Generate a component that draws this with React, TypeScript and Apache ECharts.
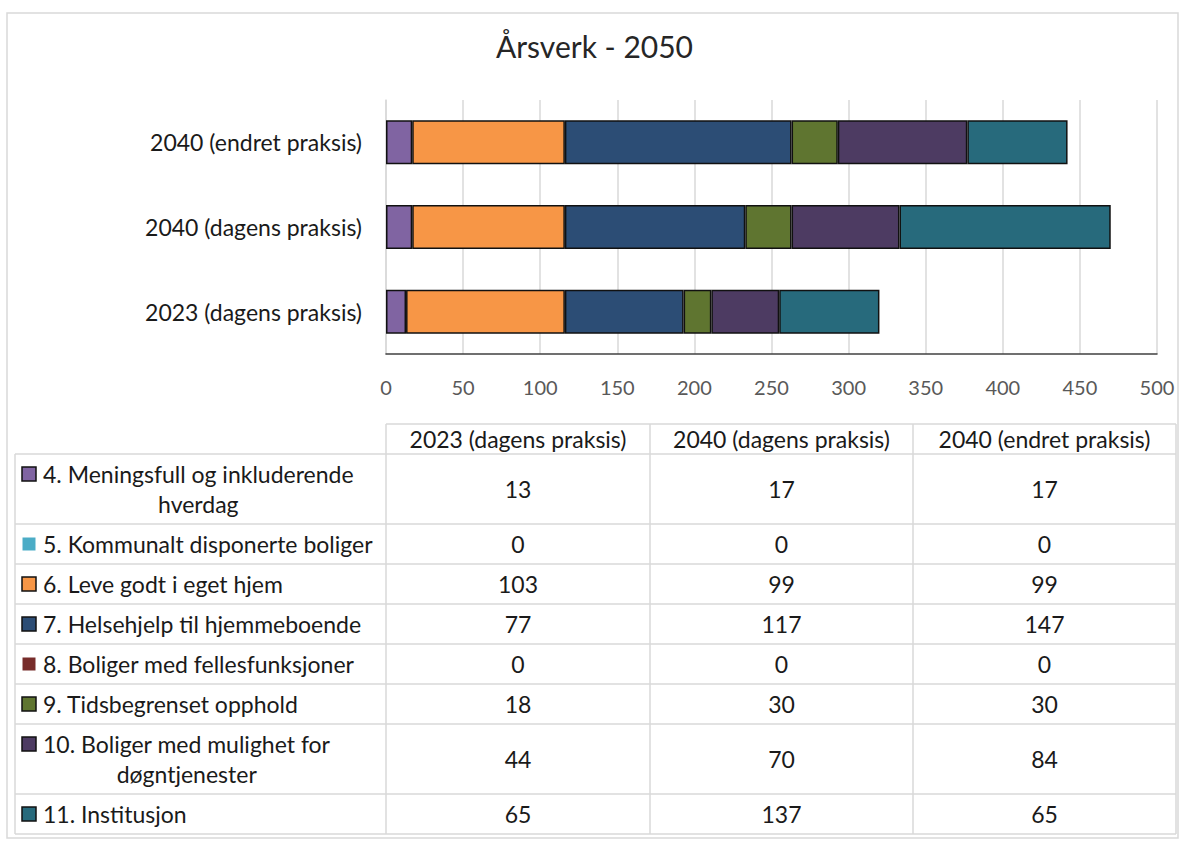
import React, { useEffect, useRef } from "react";
import * as echarts from "echarts";

// ---------- data ----------
const chartTitle = "Årsverk - 2050";
const categories = ["2023 (dagens praksis)", "2040 (dagens praksis)", "2040 (endret praksis)"];
const seriesNames = [
  "4. Meningsfull og inkluderende hverdag",
  "5. Kommunalt disponerte boliger",
  "6. Leve godt i eget hjem",
  "7. Helsehjelp til hjemmeboende",
  "8. Boliger med fellesfunksjoner",
  "9. Tidsbegrenset opphold",
  "10. Boliger med mulighet for døgntjenester",
  "11. Institusjon",
];
const s4 = [13, 17, 17];
const s5 = [0, 0, 0];
const s6 = [103, 99, 99];
const s7 = [77, 117, 147];
const s8 = [0, 0, 0];
const s9 = [18, 30, 30];
const s10 = [44, 70, 84];
const s11 = [65, 137, 65];
const seriesValues = [s4, s5, s6, s7, s8, s9, s10, s11];
const xMin = 0;
const xMax = 500;
const xInterval = 50;

// ---------- styles ----------
const seriesColors = ["#8064A2", "#4BACC6", "#F79646", "#2C4D75", "#772C2A", "#5F7530", "#4D3B62", "#276A7C"];
const seriesBordered = [true, false, true, true, false, true, true, true];
const W = 1179;
const H = 841;
const FONT = "Lato";
const FS = 23;
const TITLE_FS = 30;
const TITLE_CX = 595;
const GRID_LEFT = 386;
const GRID_RIGHT_X = 1157;
const GRID_TOP = 100;
const GRID_BOTTOM_Y = 354;
const TABLE_TOP = 424;
const HEADER_H = 30;
const COL_X = [15, 386, 650, 913, 1176];
const ROW_BASE_H = 40;
const LINE_H = 30;
const BORDER = "#d9d9d9";
const TEXT_COLOR = "#1a1a1a";

function buildTable(measure: (s: string) => number) {
  const g: any[] = [];
  const line = (x1: number, y1: number, x2: number, y2: number) =>
    g.push({
      type: "line",
      shape: { x1, y1, x2, y2 },
      style: { stroke: BORDER, lineWidth: 1.5 },
      silent: true,
    });
  const text = (t: string, x: number, y: number, align: string) =>
    g.push({
      type: "text",
      x,
      y,
      style: {
        text: t,
        fill: TEXT_COLOR,
        fontSize: FS,
        fontFamily: FONT,
        textAlign: align,
        textVerticalAlign: "middle",
      },
      silent: true,
    });

  // wrap names
  const maxW = COL_X[1] - 43 - 4;
  const wrapped = seriesNames.map((n) => {
    const words = n.split(" ");
    const lines: string[] = [];
    let cur = "";
    words.forEach((w) => {
      const cand = cur ? cur + " " + w : w;
      if (cur && measure(cand) > maxW) {
        lines.push(cur);
        cur = w;
      } else cur = cand;
    });
    if (cur) lines.push(cur);
    return lines;
  });
  const rowH = wrapped.map((l) => ROW_BASE_H + (l.length - 1) * LINE_H);
  const tableBottom = TABLE_TOP + HEADER_H + rowH.reduce((a, b) => a + b, 0);

  // header
  line(COL_X[1], TABLE_TOP, COL_X[4], TABLE_TOP);
  categories.forEach((c, j) => {
    text(c, (COL_X[j + 1] + COL_X[j + 2]) / 2, TABLE_TOP + HEADER_H / 2, "center");
  });
  // vertical lines
  line(COL_X[0], TABLE_TOP + HEADER_H, COL_X[0], tableBottom);
  for (let j = 1; j < COL_X.length; j++) line(COL_X[j], TABLE_TOP, COL_X[j], tableBottom);

  let y = TABLE_TOP + HEADER_H;
  line(COL_X[0], y, COL_X[4], y);
  wrapped.forEach((lines, i) => {
    const h = rowH[i];
    const n = lines.length;
    const firstY = y + h / 2 - ((n - 1) * LINE_H) / 2;
    // legend key
    const ks = seriesBordered[i] ? 14 : 13;
    g.push({
      type: "rect",
      shape: { x: 29 - ks / 2, y: firstY - ks / 2, width: ks, height: ks },
      style: {
        fill: seriesColors[i],
        stroke: seriesBordered[i] ? "#111" : null,
        lineWidth: seriesBordered[i] ? 1.5 : 0,
      },
      silent: true,
    });
    const w0 = measure(lines[0]);
    lines.forEach((l, k) => {
      if (k === 0) text(l, 43, firstY, "left");
      else text(l, 43 + w0 / 2, firstY + k * LINE_H, "center");
    });
    seriesValues[i].forEach((v, j) => {
      text(String(v), (COL_X[j + 1] + COL_X[j + 2]) / 2, y + h / 2, "center");
    });
    y += h;
    line(COL_X[0], y, COL_X[4], y);
  });
  return g;
}

export default function App() {
  const ref = useRef<HTMLDivElement>(null);
  useEffect(() => {
    if (!ref.current) return;
    const chart = echarts.init(ref.current, null, { renderer: "svg" });
    const ctx = document.createElement("canvas").getContext("2d")!;
    ctx.font = `${FS}px ${FONT}`;
    const measure = (s: string) => ctx.measureText(s).width;
    ctx.font = `${TITLE_FS}px ${FONT}`;
    const titleW = ctx.measureText(chartTitle).width;
    ctx.font = `${FS}px ${FONT}`;

    const graphics: any[] = [
      {
        type: "rect",
        shape: { x: 7, y: 13, width: 1171, height: 825 },
        style: { fill: null, stroke: BORDER, lineWidth: 1.5 },
        silent: true,
      },
      ...buildTable(measure),
    ];

    chart.setOption({
      animation: false,
      backgroundColor: "#fff",
      title: {
        text: chartTitle,
        left: Math.round(TITLE_CX - titleW / 2 - 5),
        top: 26,
        textStyle: { fontFamily: FONT, fontSize: TITLE_FS, fontWeight: "normal", color: "#262626" },
      },
      legend: { show: false },
      grid: {
        left: GRID_LEFT,
        right: W - GRID_RIGHT_X,
        top: GRID_TOP,
        bottom: H - GRID_BOTTOM_Y,
        containLabel: false,
      },
      xAxis: {
        type: "value",
        min: xMin,
        max: xMax,
        interval: xInterval,
        axisLine: { show: true, lineStyle: { color: "#404040", width: 1.5 } },
        axisTick: { show: false },
        splitLine: { show: true, lineStyle: { color: BORDER, width: 1.5 } },
        axisLabel: { color: "#595959", fontFamily: FONT, fontSize: 20, margin: 23 },
      },
      yAxis: {
        type: "category",
        data: categories,
        axisLine: { show: true, lineStyle: { color: BORDER, width: 1.5 } },
        axisTick: { show: false },
        axisLabel: { color: TEXT_COLOR, fontFamily: FONT, fontSize: FS, margin: 24 },
      },
      series: seriesNames.map((name, i) => ({
        name,
        type: "bar",
        stack: "total",
        data: seriesValues[i],
        barWidth: "52%",
        itemStyle: {
          color: seriesColors[i],
          borderColor: seriesBordered[i] ? "#111" : "transparent",
          borderWidth: seriesBordered[i] ? 1.5 : 0,
        },
      })),
      graphic: graphics,
    });
    return () => chart.dispose();
  }, []);
  return (
    <div
      ref={ref}
      style={{ position: "absolute", left: 0, top: 0, width: W, height: H }}
    />
  );
}
